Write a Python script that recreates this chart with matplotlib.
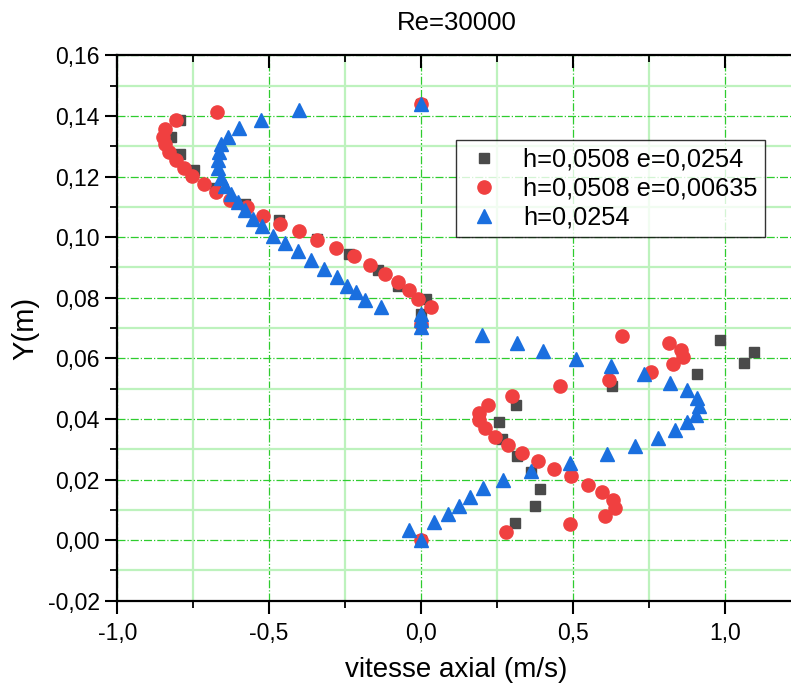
import matplotlib
matplotlib.use("Agg")
import matplotlib.pyplot as plt
from matplotlib.ticker import MultipleLocator, FuncFormatter

plt.rcParams['font.family'] = ['Liberation Sans', 'DejaVu Sans']

# Series: h=0,0508 e=0,0254 (squares)
x_sq = [0.000, -0.795, -0.822, -0.795, -0.747, -0.679, -0.579, -0.469, -0.342, -0.237,
        -0.143, -0.077, 0.017, 0.000, 0.985, 1.095, 1.062, 0.908, 0.629, 0.312,
        0.256, 0.267, 0.315, 0.362, 0.392, 0.377, 0.309, 0.000]
y_sq = [0.1440, 0.1385, 0.1330, 0.1275, 0.1220, 0.1161, 0.1110, 0.1055, 0.0994, 0.0943,
        0.0892, 0.0840, 0.0796, 0.0747, 0.0661, 0.0622, 0.0584, 0.0547, 0.0507, 0.0447,
        0.0389, 0.0334, 0.0279, 0.0225, 0.0167, 0.0112, 0.0057, 0.0000]

# Series: h=0,0508 e=0,00635 (circles)
x_ci = [0.000, -0.673, -0.806, -0.844, -0.850, -0.842, -0.830, -0.808, -0.781, -0.753,
        -0.715, -0.675, -0.629, -0.572, -0.519, -0.464, -0.403, -0.342, -0.281, -0.221,
        -0.168, -0.119, -0.077, -0.039, -0.011, 0.033, 0.000, 0.662, 0.815, 0.855,
        0.863, 0.831, 0.756, 0.620, 0.458, 0.300, 0.219, 0.190, 0.191, 0.210,
        0.243, 0.285, 0.331, 0.384, 0.439, 0.494, 0.549, 0.596, 0.632, 0.640,
        0.605, 0.489, 0.281, 0.000]
y_ci = [0.1440, 0.1412, 0.1387, 0.1357, 0.1332, 0.1308, 0.1280, 0.1255, 0.1229, 0.1203,
        0.1176, 0.1150, 0.1121, 0.1099, 0.1071, 0.1044, 0.1019, 0.0992, 0.0965, 0.0936,
        0.0908, 0.0879, 0.0853, 0.0824, 0.0796, 0.0769, 0.0714, 0.0675, 0.0651, 0.0629,
        0.0604, 0.0580, 0.0556, 0.0530, 0.0508, 0.0477, 0.0447, 0.0419, 0.0395, 0.0369,
        0.0341, 0.0315, 0.0288, 0.0260, 0.0235, 0.0210, 0.0183, 0.0158, 0.0133, 0.0105,
        0.0079, 0.0054, 0.0026, 0.0000]

# Series: h=0,0254 (triangles)
x_tr = [0.000, -0.403, -0.528, -0.599, -0.637, -0.659, -0.666, -0.668, -0.668, -0.659,
        -0.646, -0.626, -0.604, -0.579, -0.554, -0.524, -0.486, -0.447, -0.405, -0.362,
        -0.320, -0.278, -0.245, -0.215, -0.184, -0.132, 0.000, 0.000, 0.000, 0.201,
        0.315, 0.403, 0.511, 0.627, 0.734, 0.820, 0.877, 0.908, 0.916, 0.905,
        0.877, 0.837, 0.781, 0.706, 0.613, 0.489, 0.362, 0.270, 0.204, 0.162,
        0.124, 0.088, 0.044, -0.039, 0.000]
y_tr = [0.1440, 0.1418, 0.1387, 0.1359, 0.1332, 0.1308, 0.1280, 0.1253, 0.1229, 0.1196,
        0.1167, 0.1141, 0.1115, 0.1088, 0.1060, 0.1035, 0.1005, 0.0980, 0.0953, 0.0925,
        0.0895, 0.0868, 0.0840, 0.0818, 0.0793, 0.0769, 0.0747, 0.0725, 0.0703, 0.0677,
        0.0651, 0.0623, 0.0598, 0.0573, 0.0547, 0.0519, 0.0494, 0.0468, 0.0441, 0.0414,
        0.0389, 0.0362, 0.0336, 0.0309, 0.0283, 0.0255, 0.0227, 0.0200, 0.0172, 0.0142,
        0.0114, 0.0087, 0.0059, 0.0032, 0.0000]

labels = ["h=0,0508 e=0,0254", "h=0,0508 e=0,00635", "h=0,0254"]

W, H = 791, 686
fig = plt.figure(figsize=(W / 100, H / 100), dpi=100)
left_px, right_px, top_px, bot_px = 117.3, 796, 55.3, 600.7
ax = fig.add_axes([left_px / W, 1 - bot_px / H, (right_px - left_px) / W, (bot_px - top_px) / H])

ax.set_xlim(-1.0, (right_px - 421) / 303.7)
ax.set_ylim(-0.02, 0.16)

ax.xaxis.set_major_locator(MultipleLocator(0.5))
ax.xaxis.set_minor_locator(MultipleLocator(0.25))
ax.yaxis.set_major_locator(MultipleLocator(0.02))
ax.yaxis.set_minor_locator(MultipleLocator(0.01))
ax.xaxis.set_major_formatter(FuncFormatter(lambda v, p: f"{v:.1f}".replace('.', ',').replace('-0,0', '0,0')))
ax.yaxis.set_major_formatter(FuncFormatter(lambda v, p: f"{v:.2f}".replace('.', ',').replace('-0,00', '0,00')))

ax.grid(True, which='minor', color='#bdf2bd', linestyle='-', linewidth=1.6, zorder=0)
ax.grid(True, which='major', color='#2ecc2e', linestyle='-.', linewidth=0.9, zorder=0)
ax.set_axisbelow(True)

ax.tick_params(which='major', direction='out', length=9, width=1.5, labelsize=16.5,
               top=True, right=False)
ax.tick_params(which='minor', direction='out', length=5, width=1.3, top=True, right=False)
ax.tick_params(axis='x', which='both', pad=6)
for t in ax.xaxis.get_major_ticks() + ax.xaxis.get_minor_ticks():
    t.tick2line.set_marker(3)  # inward on top

for s in ['left', 'bottom', 'top']:
    ax.spines[s].set_linewidth(1.6)
ax.spines['right'].set_visible(False)

ax.plot(x_sq, y_sq, linestyle='none', marker='s', markersize=7.2, color='#4a4a4a',
        label=labels[0], zorder=3)
ax.plot(x_ci, y_ci, linestyle='none', marker='o', markersize=9.5, color='#f04040',
        label=labels[1], zorder=4)
ax.plot(x_tr, y_tr, linestyle='none', marker='^', markersize=10.5, color='#1a6fdf',
        label=labels[2], zorder=5)

leg = ax.legend(loc='upper left', bbox_to_anchor=((456 - left_px) / (right_px - left_px),
                                                   1 - (140 - top_px) / (bot_px - top_px)),
                fontsize=18.3, frameon=True, fancybox=False, edgecolor='black',
                borderpad=0.3, handletextpad=0.75, labelspacing=0.2, handlelength=1.6,
                borderaxespad=0)
leg.get_frame().set_linewidth(1.0)

ax.set_title("Re=30000", fontsize=18.5, pad=18)
ax.set_xlabel("vitesse axial (m/s)", fontsize=20, labelpad=9)
ax.set_ylabel("Y(m)", fontsize=21, labelpad=6)

fig.savefig("out.png", dpi=100)
